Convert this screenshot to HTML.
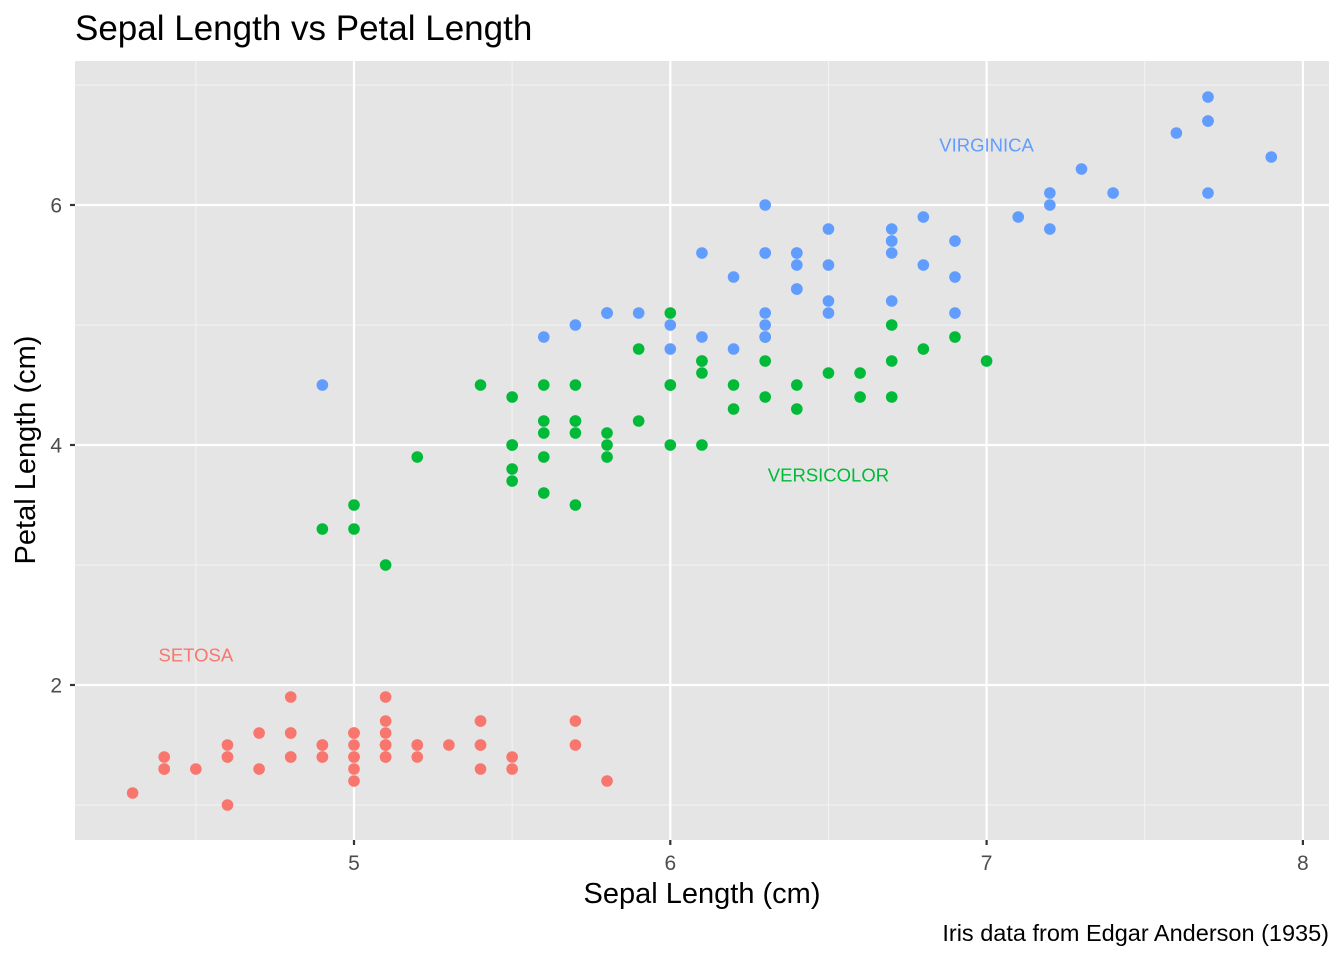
<!DOCTYPE html>
<html><head><meta charset="utf-8"><style>
body{margin:0;background:#fff;}
svg{display:block;font-family:"Liberation Sans",Arial,sans-serif;}
</style></head><body>
<svg id="chart" width="1344" height="960">
<text x="75" y="40" font-size="35" fill="#000">Sepal Length vs Petal Length</text>
<rect x="75" y="61" width="1254" height="779" fill="#e5e5e5"/>
<g id="grid"></g><g id="pts"></g><g id="axes"></g>
<text x="702" y="903" font-size="29" text-anchor="middle" fill="#000">Sepal Length (cm)</text>
<text transform="translate(35,450) rotate(-90)" font-size="29" text-anchor="middle" fill="#000">Petal Length (cm)</text>
<text x="1329" y="941" font-size="23.5" text-anchor="end" fill="#000">Iris data from Edgar Anderson (1935)</text>
</svg>
<script>
const species=["setosa","versicolor","virginica"];
const colors=["#F8766D","#00BA38","#619CFF"];
const setosaSepal=[5.1,4.9,4.7,4.6,5.0,5.4,4.6,5.0,4.4,4.9,5.4,4.8,4.8,4.3,5.8,5.7,5.4,5.1,5.7,5.1,5.4,5.1,4.6,5.1,4.8,5.0,5.0,5.2,5.2,4.7,4.8,5.4,5.2,5.5,4.9,5.0,5.5,4.9,4.4,5.1,5.0,4.5,4.4,5.0,5.1,4.8,5.1,4.6,5.3,5.0];
const setosaPetal=[1.4,1.4,1.3,1.5,1.4,1.7,1.4,1.5,1.4,1.5,1.5,1.6,1.4,1.1,1.2,1.5,1.3,1.4,1.7,1.5,1.7,1.5,1.0,1.7,1.9,1.6,1.6,1.5,1.4,1.6,1.6,1.5,1.5,1.4,1.5,1.2,1.3,1.4,1.3,1.5,1.3,1.3,1.3,1.6,1.9,1.4,1.6,1.4,1.5,1.4];
const versiSepal=[7.0,6.4,6.9,5.5,6.5,5.7,6.3,4.9,6.6,5.2,5.0,5.9,6.0,6.1,5.6,6.7,5.6,5.8,6.2,5.6,5.9,6.1,6.3,6.1,6.4,6.6,6.8,6.7,6.0,5.7,5.5,5.5,5.8,6.0,5.4,6.0,6.7,6.3,5.6,5.5,5.5,6.1,5.8,5.0,5.6,5.7,5.7,6.2,5.1,5.7];
const versiPetal=[4.7,4.5,4.9,4.0,4.6,4.5,4.7,3.3,4.6,3.9,3.5,4.2,4.0,4.7,3.6,4.4,4.5,4.1,4.5,3.9,4.8,4.0,4.9,4.7,4.3,4.4,4.8,5.0,4.5,3.5,3.8,3.7,3.9,5.1,4.5,4.5,4.7,4.4,4.1,4.0,4.4,4.6,4.0,3.3,4.2,4.2,4.2,4.3,3.0,4.1];
const virgSepal=[6.3,5.8,7.1,6.3,6.5,7.6,4.9,7.3,6.7,7.2,6.5,6.4,6.8,5.7,5.8,6.4,6.5,7.7,7.7,6.0,6.9,5.6,7.7,6.3,6.7,7.2,6.2,6.1,6.4,7.2,7.4,7.9,6.4,6.3,6.1,7.7,6.3,6.4,6.0,6.9,6.7,6.9,5.8,6.8,6.7,6.7,6.3,6.5,6.2,5.9];
const virgPetal=[6.0,5.1,5.9,5.6,5.8,6.6,4.5,6.3,5.8,6.1,5.1,5.3,5.5,5.0,5.1,5.3,5.5,6.7,6.9,5.0,5.7,4.9,6.7,4.9,5.7,6.0,4.8,4.9,5.6,5.8,6.1,6.4,5.6,5.1,5.6,6.1,5.6,5.5,4.8,5.4,5.6,5.1,5.1,5.9,5.7,5.2,5.0,5.2,5.4,5.1];
const xTicks=[5,6,7,8];
const xMinor=[4.5,5.5,6.5,7.5];
const yTicks=[2,4,6];
const yMinor=[1,3,5,7];
const labelText=["SETOSA","VERSICOLOR","VIRGINICA"];
const labelX=[4.5,6.5,7.0];
const labelY=[2.2,3.7,6.45];

const NS="http://www.w3.org/2000/svg";
const X0=75,X1=1329,Y0=61,Y1=840;
function sx(v){return 354+(v-5)*316.3;}
function sy(v){return 685-(v-2)*120;}
function mk(tag,attrs,parent){const e=document.createElementNS(NS,tag);for(const k in attrs)e.setAttribute(k,attrs[k]);parent.appendChild(e);return e;}
const grid=document.getElementById('grid'),pts=document.getElementById('pts'),axes=document.getElementById('axes');
xMinor.forEach(v=>{const l=mk('line',{x1:sx(v),x2:sx(v),y1:Y0,y2:Y1,stroke:'#f2f2f2','stroke-width':1.1},grid);

});
yMinor.forEach(v=>{const l=mk('line',{x1:X0,x2:X1,y1:sy(v),y2:sy(v),stroke:'#f2f2f2','stroke-width':1.1},grid);

});
xTicks.forEach(v=>{const l=mk('line',{x1:sx(v),x2:sx(v),y1:Y0,y2:Y1,stroke:'#fff','stroke-width':2.2},grid);


const t=mk('line',{x1:sx(v),x2:sx(v),y1:Y1,y2:Y1+5,stroke:'#333','stroke-width':2.2},axes);


const tx=mk('text',{x:sx(v),y:Y1+30,'font-size':21,'text-anchor':'middle',fill:'#4d4d4d'},axes);tx.textContent=v;

});
yTicks.forEach(v=>{const l=mk('line',{x1:X0,x2:X1,y1:sy(v),y2:sy(v),stroke:'#fff','stroke-width':2.2},grid);


const t=mk('line',{x1:X0-5,x2:X0,y1:sy(v),y2:sy(v),stroke:'#333','stroke-width':2.2},axes);


const tx=mk('text',{x:X0-13,y:sy(v)+7.5,'font-size':21,'text-anchor':'end',fill:'#4d4d4d'},axes);tx.textContent=v;

});
const sepals=[setosaSepal,versiSepal,virgSepal],petals=[setosaPetal,versiPetal,virgPetal];
for(let s=0;s<3;s++){for(let i=0;i<sepals[s].length;i++){
const c=mk('circle',{cx:sx(sepals[s][i]),cy:sy(petals[s][i]),r:5.8,fill:colors[s]},pts);

}
const t=mk('text',{x:sx(labelX[s]),y:sy(labelY[s])+0.5,'font-size':18.5,'text-anchor':'middle',fill:colors[s]},axes);t.textContent=labelText[s];

}
</script>
</body></html>
